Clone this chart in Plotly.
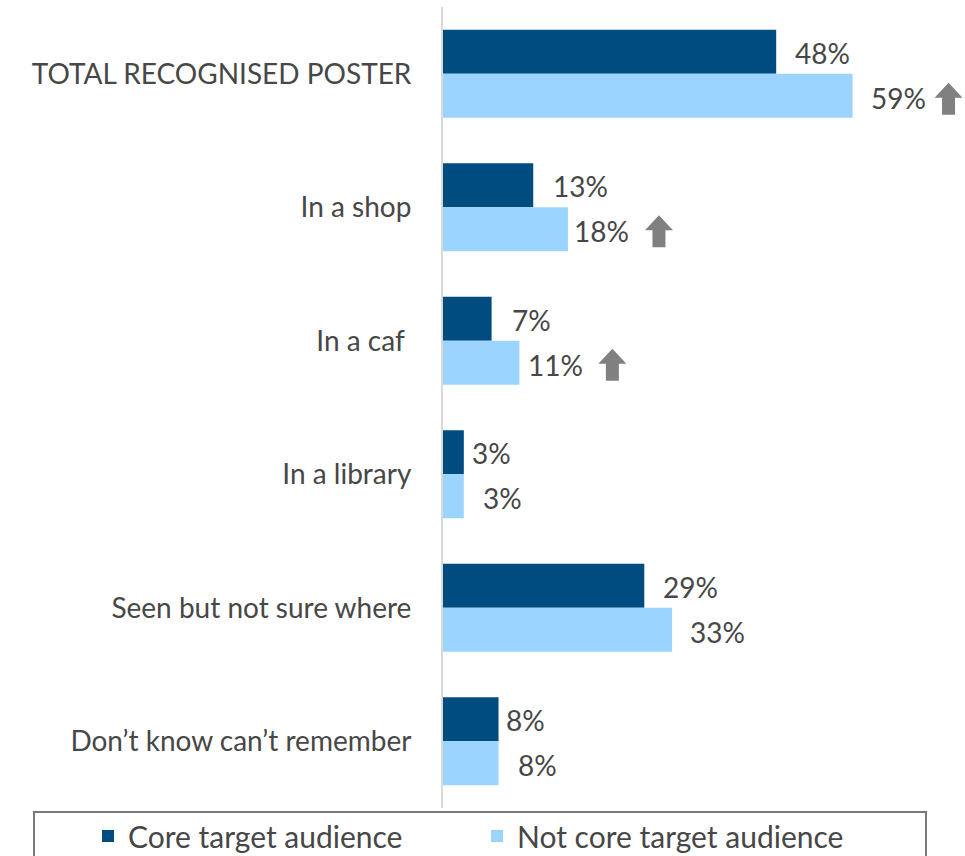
import plotly.graph_objects as go

categories = [
    "TOTAL RECOGNISED POSTER",
    "In a shop",
    "In a caf ",
    "In a library",
    "Seen but not sure where",
    "Don\u2019t know can\u2019t remember",
]
core_values = [48, 13, 7, 3, 29, 8]
not_core_values = [59, 18, 11, 3, 33, 8]
# significantly higher among the not-core group
not_core_up = [True, True, True, False, False, False]

DARK = "#004b7f"
LIGHT = "#9bd5ff"
TEXT = "#474747"
ARROW = "#808080"
FONT = "Lato"

# per-label horizontal offsets (px) from the bar end
core_shift = [17, 18, 18, 6, 17, 5]
not_core_shift = [16, 4, 7, 17, 16, 17]
# arrow placement: left offset from bar end, top offset below category centre (px)
arrow_left = [82, 77, 79]
arrow_top = [9, 8, 8]


def up_arrow_path(x0, top, w=28, head=15, stem=13, h=32):
    """Block up-arrow path in pixel units (y positive upward)."""
    cx = x0 + w / 2
    s0, s1 = cx - stem / 2, cx + stem / 2
    y_tip = -top
    y_base = -top - head
    y_bot = -top - h
    return (f"M{x0},{y_base} L{cx},{y_tip} L{x0 + w},{y_base} L{s1},{y_base} "
            f"L{s1},{y_bot} L{s0},{y_bot} L{s0},{y_base} Z")


fig = go.Figure()
fig.add_trace(go.Bar(
    y=categories, x=core_values, orientation="h", name="Core target audience",
    marker=dict(color=DARK, line=dict(width=0)), legend="legend",
))
fig.add_trace(go.Bar(
    y=categories, x=not_core_values, orientation="h", name="Not core target audience",
    marker=dict(color=LIGHT, line=dict(width=0)), legend="legend2",
))

annotations = []
shapes = []
for i, (cat, v) in enumerate(zip(categories, core_values)):
    annotations.append(dict(
        x=v, y=cat, xref="x", yref="y", text=f"{v}%", showarrow=False,
        xanchor="left", yanchor="middle", xshift=core_shift[i], yshift=21,
        font=dict(family=FONT, size=28, color=TEXT),
    ))
k = 0
for i, (cat, v) in enumerate(zip(categories, not_core_values)):
    annotations.append(dict(
        x=v, y=cat, xref="x", yref="y", text=f"{v}%", showarrow=False,
        xanchor="left", yanchor="middle", xshift=not_core_shift[i], yshift=-24,
        font=dict(family=FONT, size=28, color=TEXT),
    ))
    if not_core_up[i]:
        shapes.append(dict(
            type="path", xref="x", yref="y",
            xsizemode="pixel", ysizemode="pixel", xanchor=v, yanchor=cat,
            path=up_arrow_path(arrow_left[k], arrow_top[k]),
            fillcolor=ARROW, line=dict(width=0),
        ))
        k += 1

# legend frame
shapes.append(dict(
    type="rect", xref="paper", yref="paper",
    x0=(34 - 443) / 522, x1=(926 - 443) / 522,
    y0=-80 / 801, y1=-4 / 801,
    line=dict(color="#7a7a7a", width=2), fillcolor="rgba(0,0,0,0)",
    layer="below",
))

legend_common = dict(
    orientation="h", xref="container", yref="container",
    xanchor="left", y=1 - 836 / 856, yanchor="middle",
    font=dict(family=FONT, size=30, color=TEXT),
    bgcolor="rgba(0,0,0,0)",
)

fig.update_layout(
    width=965, height=856,
    margin=dict(l=443, r=0, t=7, b=48, autoexpand=False),
    paper_bgcolor="white", plot_bgcolor="white",
    barmode="group", bargap=0.34, bargroupgap=0,
    showlegend=True,
    legend=dict(x=88 / 965, **legend_common),
    legend2=dict(x=477 / 965, **legend_common),
    xaxis=dict(range=[0, 75.2], visible=False, fixedrange=True),
    yaxis=dict(
        autorange="reversed", showgrid=False, zeroline=False,
        showline=True, linecolor="#d9d9d9", linewidth=2,
        ticks="", ticklabelstandoff=24,
        tickfont=dict(family=FONT, size=28, color=TEXT),
    ),
    annotations=annotations,
    shapes=shapes,
)

fig.write_html("out.html")
